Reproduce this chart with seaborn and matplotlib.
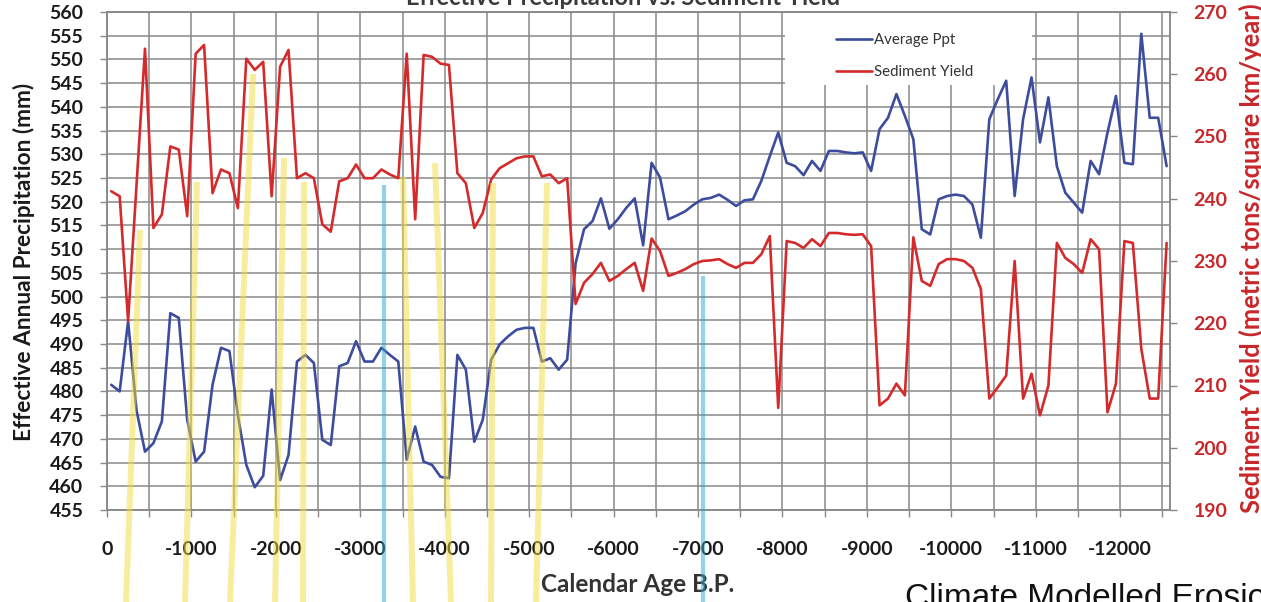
import matplotlib
matplotlib.use("Agg")
import matplotlib.pyplot as plt
import numpy as np
import pandas as pd
import seaborn as sns
from matplotlib.lines import Line2D
from matplotlib.patches import Rectangle
from matplotlib.ticker import MultipleLocator, FuncFormatter

# ---------------------------------------------------------------- data
years = [
    -50, -150, -250, -350, -450, -550, -650, -750, -850, -950,
    -1050, -1150, -1250, -1350, -1450, -1550, -1650, -1750, -1850, -1950,
    -2050, -2150, -2250, -2350, -2450, -2550, -2650, -2750, -2850, -2950,
    -3050, -3150, -3250, -3350, -3450, -3550, -3650, -3750, -3850, -3950,
    -4050, -4150, -4250, -4350, -4450, -4550, -4650, -4750, -4850, -4950,
    -5050, -5150, -5250, -5350, -5450, -5550, -5650, -5750, -5850, -5950,
    -6050, -6150, -6250, -6350, -6450, -6550, -6650, -6750, -6850, -6950,
    -7050, -7150, -7250, -7350, -7450, -7550, -7650, -7750, -7850, -7950,
    -8050, -8150, -8250, -8350, -8450, -8550, -8650, -8750, -8850, -8950,
    -9050, -9150, -9250, -9350, -9450, -9550, -9650, -9750, -9850, -9950,
    -10050, -10150, -10250, -10350, -10450, -10550, -10650, -10750, -10850, -10950,
    -11050, -11150, -11250, -11350, -11450, -11550, -11650, -11750, -11850, -11950,
    -12050, -12150, -12250, -12350, -12450, -12550,
]

avg_ppt = [
    481.4, 480.0, 494.8, 476.0, 467.3, 469.1, 473.7, 496.5, 495.5, 474.0,
    465.2, 467.3, 481.4, 489.2, 488.5, 475.0, 464.5, 459.8, 462.2, 480.4,
    461.3, 466.6, 486.3, 487.7, 486.0, 469.8, 468.7, 485.3, 486.0, 490.6,
    486.3, 486.3, 489.2, 487.7, 486.3, 465.6, 472.6, 465.2, 464.5, 462.0,
    461.7, 487.7, 484.6, 469.4, 474.0, 486.7, 489.9, 491.6, 493.0, 493.4,
    493.4, 486.3, 487.0, 484.6, 486.7, 507.0, 514.2, 515.9, 520.7, 514.3,
    516.3, 518.7, 520.7, 510.8, 528.2, 525.1, 516.3, 517.1, 518.0, 519.4,
    520.5, 520.8, 521.5, 520.4, 519.1, 520.3, 520.5, 524.4, 529.6, 534.6,
    528.2, 527.5, 525.6, 528.6, 526.5, 530.7, 530.7, 530.4, 530.2, 530.4,
    526.5, 535.3, 537.7, 542.7, 538.1, 533.2, 514.2, 513.1, 520.5, 521.2,
    521.5, 521.2, 519.4, 512.4, 537.4, 541.6, 545.5, 521.2, 537.4, 546.2,
    532.5, 542.0, 527.5, 521.9, 519.8, 517.7, 528.6, 525.8, 534.6, 542.3,
    528.2, 527.9, 555.4, 537.7, 537.7, 527.5,
]

sediment_yield = [
    241.2, 240.4, 220.4, 242.3, 264.1, 235.3, 237.5, 248.4, 247.9, 237.2,
    263.3, 264.7, 240.9, 244.7, 244.1, 238.5, 262.5, 260.7, 262.0, 240.4,
    261.2, 263.9, 243.3, 244.1, 243.3, 235.9, 234.7, 242.8, 243.3, 245.5,
    243.3, 243.3, 244.7, 243.9, 243.3, 263.3, 236.7, 263.1, 262.8, 261.7,
    261.5, 244.1, 242.5, 235.3, 237.7, 243.1, 244.9, 245.7, 246.5, 246.8,
    246.8, 243.6, 243.9, 242.5, 243.3, 223.1, 226.5, 227.9, 229.7, 226.8,
    227.6, 228.7, 229.7, 225.2, 233.6, 231.6, 227.6, 228.1, 228.7, 229.5,
    230.0, 230.1, 230.3, 229.5, 228.9, 229.7, 229.7, 231.1, 234.0, 206.4,
    233.2, 232.9, 232.1, 233.5, 232.4, 234.5, 234.5, 234.3, 234.2, 234.3,
    232.4, 206.8, 207.9, 210.3, 208.4, 233.8, 226.8, 226.0, 229.5, 230.3,
    230.3, 230.0, 228.9, 225.5, 207.9, 209.7, 211.6, 230.0, 207.9, 211.9,
    205.2, 210.0, 232.9, 230.5, 229.5, 228.1, 233.5, 231.9, 205.7, 210.3,
    233.2, 232.9, 215.9, 207.9, 207.9, 232.9,
]

series_names = ["Average Ppt", "Sediment Yield"]
title_text = "Effective Precipitation vs. Sediment Yield"
x_title = "Calendar Age B.P."
left_title = "Effective Annual Precipitation (mm)"
right_title = "Sediment Yield (metric tons/square km/year)"
caption_text = "Climate Modelled Erosion"

# ---------------------------------------------------------------- style
sns.set_theme(style="white")
plt.rcParams["font.family"] = ["Lato", "DejaVu Sans"]

BLUE = "#3d4c9c"
RED = "#d42a2b"
RED_TEXT = "#c8272b"
GRID = "#898989"
INK = "#1a1a1a"

W, H = 1261, 602
fig = plt.figure(figsize=(W / 100, H / 100), dpi=100)
fig.patch.set_facecolor("white")


def fx(px):
    return px / W


def fy(py):
    return 1 - py / H


ax = fig.add_axes([fx(107), fy(510), fx(1170) - fx(107), fy(12) - fy(510)])
ax2 = ax.twinx()

df = pd.DataFrame({"year": years, "ppt": avg_ppt, "sed": sediment_yield})
sns.lineplot(data=df, x="year", y="ppt", ax=ax, color=BLUE, linewidth=1.9,
             legend=False, zorder=2)
sns.lineplot(data=df, x="year", y="sed", ax=ax2, color=RED, linewidth=1.9,
             legend=False, zorder=2)

# axes ranges (age runs from present on the left into the past)
ax.set_xlim(0, -12590)
ax.set_ylim(455, 560)
ax2.set_ylim(190, 270)

ax.xaxis.set_major_locator(MultipleLocator(500))
ax.xaxis.set_major_formatter(
    FuncFormatter(lambda v, p: f"{int(round(v))}" if round(v) % 1000 == 0 else ""))
ax.yaxis.set_major_locator(MultipleLocator(5))
ax.yaxis.set_major_formatter(FuncFormatter(lambda v, p: f"{int(round(v))}"))
ax2.yaxis.set_major_locator(MultipleLocator(10))
ax2.yaxis.set_major_formatter(FuncFormatter(lambda v, p: f"{int(round(v))}"))

ax.set_axisbelow(True)
ax.grid(True, which="major", color=GRID, linewidth=1.1)
ax2.grid(False)

for a in (ax, ax2):
    for s in a.spines.values():
        s.set_color(GRID)
        s.set_linewidth(1.1)
    a.set_xlabel("")
    a.set_ylabel("")

ax.tick_params(axis="x", direction="out", length=5, width=1, color=GRID,
               pad=17, labelsize=14, labelcolor=INK, bottom=True)
ax.tick_params(axis="y", direction="out", length=5, width=1, color=GRID,
               pad=12, labelsize=14, labelcolor=INK, left=True)
ax2.tick_params(axis="y", direction="out", length=5, width=1, color=GRID,
                pad=12, labelsize=14, labelcolor=RED_TEXT, right=True)
for lab in ax.get_xticklabels() + ax.get_yticklabels() + ax2.get_yticklabels():
    lab.set_fontweight("bold")

# white legend panel in the upper right of the plot area
ax.add_artist(Rectangle((fx(785), fy(85)), fx(1032) - fx(785), fy(13) - fy(85),
                        transform=fig.transFigure, facecolor="white",
                        edgecolor="none", zorder=1))

handles = [ax.lines[0], ax2.lines[0]]
fig.legend(handles, series_names, loc="upper left",
           bbox_to_anchor=(fx(836), fy(33)), frameon=False, fontsize=10.8,
           handlelength=2.4, handletextpad=0.15, labelspacing=1.2,
           borderpad=0, borderaxespad=0, labelcolor="#333333")

# titles and captions
fig.text(fx(623), fy(5), title_text, ha="center", va="baseline",
         fontsize=17, fontweight="bold", color="#3a3a3a")
fig.text(fx(638), fy(585), x_title, ha="center", va="center",
         fontsize=17.5, fontweight="bold", color="#333333")
fig.text(fx(24), fy(262), left_title, rotation=90, ha="center", va="center",
         fontsize=16.3, fontweight="bold", color=INK)
fig.text(fx(1251), fy(513), right_title, rotation=90, ha="center", va="bottom",
         fontsize=18.4, fontweight="bold", color=RED_TEXT)
fig.text(fx(905), fy(607), caption_text, ha="left", va="baseline",
         fontsize=24, color="#111111", family=["Liberation Sans", "DejaVu Sans"])

# highlight strokes crossing the chart (figure pixel positions: top, bottom)
yellow_strokes = [
    ((140, 230), (126, 602)),
    ((197, 182), (185, 602)),
    ((253, 74), (230, 602)),
    ((284, 158), (275, 602)),
    ((304, 182), (303, 602)),
    ((403, 177), (413, 602)),
    ((435, 163), (451, 602)),
    ((493, 183), (491, 602)),
    ((547, 183), (536, 602)),
]
cyan_strokes = [
    ((384, 185), (384, 602)),
    ((703, 276), (703, 602)),
]
for (x0, y0), (x1, y1) in yellow_strokes:
    fig.add_artist(Line2D([fx(x0), fx(x1)], [fy(y0), fy(y1)],
                          transform=fig.transFigure, color="#f2dc3c",
                          alpha=0.5, linewidth=4.3, solid_capstyle="butt",
                          zorder=5))
for (x0, y0), (x1, y1) in cyan_strokes:
    fig.add_artist(Line2D([fx(x0), fx(x1)], [fy(y0), fy(y1)],
                          transform=fig.transFigure, color="#2aa9c9",
                          alpha=0.5, linewidth=3.0, solid_capstyle="butt",
                          zorder=5))

fig.savefig("out.png", dpi=100, facecolor="white")
